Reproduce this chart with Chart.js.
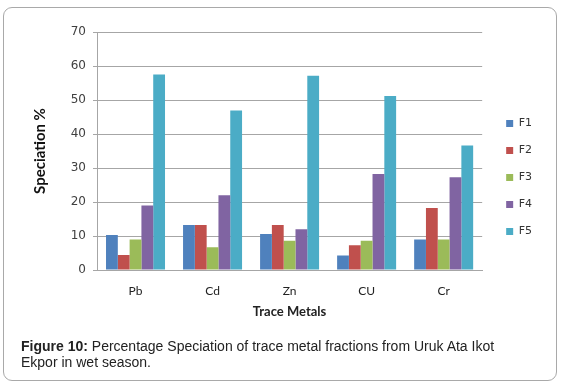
<!DOCTYPE html>
<html><head><meta charset="utf-8">
<script src="https://cdn.jsdelivr.net/npm/chart.js@4"></script>
<style>
html,body{margin:0;padding:0;background:#fff;}
#wrap{position:relative;width:561px;height:387px;overflow:hidden;}
#frame{position:absolute;left:3px;top:7px;width:552px;height:372px;border:1px solid #a9a9a9;border-radius:9px;}
#c{position:absolute;left:0;top:0;}
#cap{position:absolute;left:21px;top:338px;width:500px;font:14px 'Liberation Sans',Arial,sans-serif;line-height:16px;color:#222;}
</style></head><body>
<div id="wrap">
  <div id="frame"></div>
  <canvas id="c" width="561" height="387"></canvas>
  <div id="cap"><b>Figure 10:</b> Percentage Speciation of trace metal fractions from Uruk Ata Ikot Ekpor in wet season.</div>
</div>
<script>
// values
const metals=['Pb','Cd','Zn','CU','Cr'];
const fractions=['F1','F2','F3','F4','F5'];
const F1=[10.3,13.2,10.6,4.3,9.0];
const F2=[4.4,13.2,13.2,7.3,18.2];
const F3=[9.0,6.7,8.6,8.6,9.0];
const F4=[19.0,22.0,12.0,28.2,27.3];
const F5=[57.5,46.9,57.1,51.2,36.6];
const colors=['#4f81bd','#c0504d','#9bbb59','#8064a2','#4bacc6'];

const series=[F1,F2,F3,F4,F5];
const grid='#a6a6a6';

new Chart(document.getElementById('c').getContext('2d'),{
  type:'bar',
  data:{labels:metals,datasets:series.map((d,i)=>({label:fractions[i],data:d,backgroundColor:colors[i],borderWidth:0}))},
  options:{
    responsive:false,animation:false,
    categoryPercentage:0.766,barPercentage:1,
    layout:{padding:{left:20,top:32,bottom:64,right:19}},
    plugins:{
      tooltip:{enabled:false},
      legend:{position:'right',align:'center',
        labels:{boxWidth:7,boxHeight:7,padding:16,color:'#333',font:{family:'DejaVu Sans',size:11}}}
    },
    scales:{
      x:{
        grid:{display:false,drawTicks:false},
        border:{color:grid,width:1},
        ticks:{padding:14,color:'#222',font:{family:'Lato',size:12}},
        title:{display:true,text:'Trace Metals',color:'#222',font:{family:'Lato',size:13,weight:'bold'},padding:{top:0,bottom:3}},
        afterFit(s){s.height=53;}
      },
      y:{
        min:0,max:70,
        ticks:{stepSize:10,padding:7,color:'#404040',font:{family:'DejaVu Sans',size:12}},
        grid:{color:grid,tickLength:4,tickColor:grid},
        border:{color:grid,width:1},
        title:{display:true,text:'Speciation %',color:'#111',font:{family:'Lato',size:15,weight:'bold'},padding:{top:11,bottom:0}},
        afterFit(s){s.width=77;}
      },
      gap:{
        position:'right',display:true,
        grid:{display:false,drawTicks:false},border:{display:false},ticks:{display:false},
        afterFit(s){s.width=8;}
      }
    }
  }
});
</script>
</body></html>
